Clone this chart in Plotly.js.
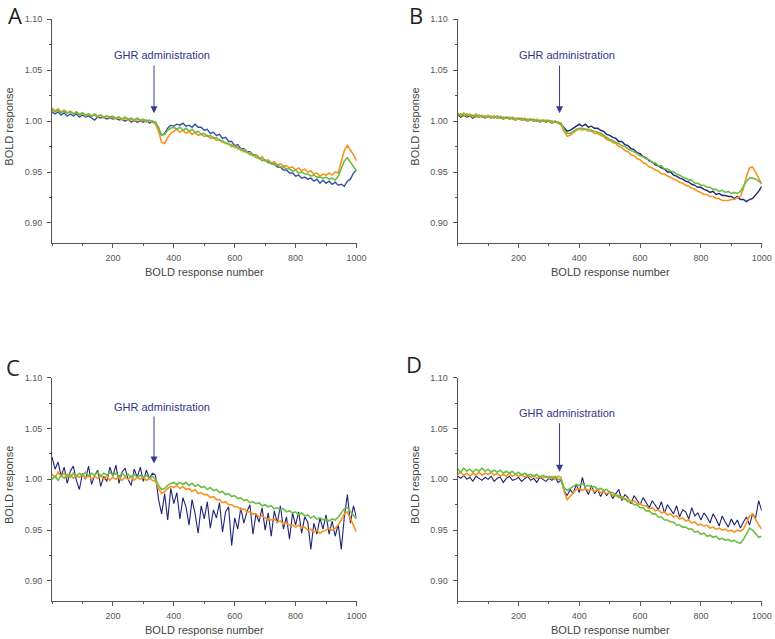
<!DOCTYPE html>
<html>
<head>
<meta charset="utf-8">
<script src="https://cdn.plot.ly/plotly-3.0.1.min.js"></script>
<style>html,body{margin:0;padding:0;background:#fff;}#chart{width:775px;height:639px;}</style>
</head>
<body>
<div id="chart"></div>
<script>
// BOLD response number (sampled every 10)
const responseNumber = [0,10,20,30,40,50,60,70,80,90,100,110,120,130,140,150,160,170,180,190,200,210,220,230,240,250,260,270,280,290,300,310,320,330,340,350,360,370,380,390,400,410,420,430,440,450,460,470,480,490,500,510,520,530,540,550,560,570,580,590,600,610,620,630,640,650,660,670,680,690,700,710,720,730,740,750,760,770,780,790,800,810,820,830,840,850,860,870,880,890,900,910,920,930,940,950,960,970,980,990,1000];

const panelLabels = ["A", "B", "C", "D"];
const xTickVals = [200, 400, 600, 800, 1000];
const yTickVals = [0.90, 0.95, 1.00, 1.05, 1.10];
const xTitle = "BOLD response number";
const yTitle = "BOLD response";
const eventLabel = "GHR administration";
const eventX = 335;

// Panel A
const A_navy = [1.009,1.007,1.009,1.006,1.008,1.005,1.007,1.005,1.007,1.004,
1.006,1.004,1.005,1.003,1.001,1.004,1.003,1.004,1.002,1.003,
1.002,1.003,1.001,1.002,1.000,1.002,0.999,1.001,0.999,1.000,
0.999,1.001,0.998,1.000,0.998,0.991,0.986,0.988,0.993,0.996,
0.995,0.997,0.996,0.998,0.995,0.996,0.994,0.997,0.994,0.994,
0.991,0.992,0.988,0.989,0.986,0.987,0.983,0.984,0.980,0.980,
0.976,0.977,0.973,0.973,0.970,0.970,0.967,0.967,0.964,0.964,
0.961,0.961,0.958,0.958,0.955,0.955,0.952,0.952,0.949,0.949,
0.946,0.947,0.944,0.945,0.943,0.944,0.941,0.943,0.939,0.942,
0.939,0.941,0.938,0.940,0.937,0.938,0.936,0.941,0.943,0.949,
0.952];
const A_orange = [1.013,1.010,1.012,1.009,1.011,1.008,1.010,1.007,1.009,1.006,
1.008,1.005,1.007,1.005,1.006,1.004,1.006,1.003,1.005,1.003,
1.004,1.002,1.004,1.001,1.003,1.001,1.002,1.000,1.002,1.000,
1.001,0.999,1.001,0.999,0.997,0.990,0.979,0.978,0.984,0.988,
0.990,0.992,0.989,0.991,0.988,0.990,0.987,0.989,0.986,0.987,
0.985,0.986,0.983,0.984,0.981,0.982,0.979,0.979,0.977,0.977,
0.974,0.975,0.971,0.972,0.969,0.969,0.966,0.967,0.963,0.965,
0.961,0.962,0.959,0.960,0.957,0.958,0.956,0.956,0.954,0.955,
0.952,0.954,0.951,0.953,0.950,0.951,0.948,0.949,0.946,0.948,
0.947,0.949,0.947,0.950,0.949,0.960,0.971,0.976,0.972,0.967,
0.961];
const A_green = [1.011,1.009,1.011,1.008,1.010,1.008,1.009,1.007,1.009,1.007,
1.008,1.006,1.007,1.005,1.007,1.005,1.006,1.004,1.005,1.004,
1.005,1.003,1.004,1.002,1.004,1.002,1.003,1.001,1.003,1.001,
1.002,1.000,1.001,0.999,0.999,0.994,0.986,0.987,0.991,0.993,
0.994,0.992,0.994,0.991,0.993,0.990,0.992,0.989,0.990,0.987,
0.988,0.985,0.986,0.983,0.984,0.981,0.981,0.978,0.978,0.975,
0.976,0.973,0.973,0.970,0.970,0.967,0.967,0.964,0.964,0.961,
0.962,0.959,0.959,0.957,0.957,0.955,0.955,0.953,0.953,0.951,
0.952,0.949,0.950,0.948,0.948,0.946,0.947,0.945,0.945,0.944,
0.945,0.943,0.944,0.942,0.946,0.954,0.961,0.964,0.960,0.956,
0.951];

// Panel B
const B_navy = [1.006,1.004,1.006,1.004,1.005,1.003,1.005,1.004,1.005,1.003,
1.005,1.003,1.005,1.003,1.004,1.002,1.004,1.002,1.003,1.001,
1.003,1.001,1.002,1.000,1.002,1.000,1.001,0.999,1.001,0.999,
1.000,0.998,1.000,0.998,0.997,0.993,0.990,0.991,0.993,0.995,
0.997,0.995,0.997,0.994,0.995,0.993,0.993,0.991,0.990,0.987,
0.986,0.984,0.983,0.980,0.980,0.977,0.976,0.973,0.972,0.969,
0.968,0.965,0.964,0.961,0.960,0.957,0.956,0.954,0.953,0.950,
0.950,0.947,0.946,0.944,0.943,0.941,0.940,0.938,0.937,0.935,
0.935,0.933,0.932,0.930,0.931,0.928,0.929,0.927,0.927,0.926,
0.926,0.924,0.926,0.923,0.923,0.921,0.923,0.924,0.927,0.931,
0.936];
const B_orange = [1.008,1.005,1.008,1.005,1.007,1.004,1.007,1.004,1.006,1.003,
1.006,1.003,1.005,1.003,1.005,1.002,1.004,1.002,1.004,1.001,
1.003,1.001,1.003,1.000,1.002,1.000,1.002,0.999,1.001,0.999,
1.001,0.998,1.000,0.998,0.996,0.990,0.985,0.986,0.989,0.991,
0.992,0.991,0.992,0.990,0.990,0.988,0.988,0.986,0.985,0.982,
0.981,0.979,0.978,0.975,0.974,0.971,0.970,0.967,0.966,0.963,
0.962,0.959,0.958,0.955,0.954,0.952,0.951,0.948,0.948,0.946,
0.945,0.943,0.942,0.940,0.939,0.937,0.936,0.934,0.933,0.931,
0.930,0.928,0.928,0.926,0.926,0.924,0.924,0.922,0.922,0.922,
0.923,0.923,0.925,0.926,0.934,0.946,0.954,0.955,0.950,0.944,
0.938];
const B_green = [1.006,1.007,1.005,1.007,1.005,1.006,1.004,1.006,1.004,1.005,
1.004,1.005,1.003,1.005,1.003,1.004,1.003,1.004,1.002,1.003,
1.002,1.003,1.001,1.002,1.001,1.002,1.000,1.001,1.000,1.001,
1.000,1.000,0.999,0.999,0.998,0.992,0.988,0.988,0.990,0.992,
0.993,0.993,0.992,0.992,0.991,0.990,0.989,0.988,0.986,0.984,
0.982,0.981,0.979,0.978,0.976,0.975,0.973,0.971,0.970,0.968,
0.966,0.965,0.963,0.962,0.959,0.959,0.956,0.956,0.953,0.953,
0.951,0.950,0.948,0.947,0.945,0.944,0.942,0.942,0.939,0.939,
0.937,0.937,0.935,0.935,0.933,0.933,0.931,0.932,0.930,0.931,
0.929,0.930,0.929,0.931,0.936,0.941,0.944,0.944,0.943,0.941,
0.939];

// Panel C
const C_navy = [1.022,1.010,1.017,1.003,1.012,0.996,1.008,1.013,0.999,0.990,
1.006,1.000,1.013,0.995,1.004,1.009,0.993,1.003,0.998,1.012,
1.003,1.014,0.996,1.007,1.011,1.000,0.994,1.010,1.002,1.012,
0.998,1.009,1.001,1.006,1.004,0.980,0.966,0.986,0.960,0.991,
0.976,0.987,0.961,0.982,0.973,0.955,0.980,0.966,0.947,0.974,
0.961,0.978,0.952,0.970,0.962,0.977,0.948,0.968,0.973,0.935,
0.962,0.951,0.972,0.957,0.968,0.975,0.946,0.966,0.958,0.972,
0.950,0.967,0.944,0.969,0.957,0.974,0.951,0.963,0.941,0.967,
0.955,0.968,0.947,0.963,0.958,0.931,0.957,0.946,0.962,0.951,
0.965,0.946,0.959,0.944,0.956,0.931,0.963,0.985,0.957,0.974,
0.962];
const C_orange = [1.005,1.002,1.007,1.003,1.006,1.002,1.005,1.001,1.004,1.002,
1.005,1.001,1.004,1.000,1.003,1.001,1.004,1.000,1.003,0.999,
1.002,1.000,1.003,0.999,1.002,1.000,1.003,0.999,1.002,1.000,
1.002,0.999,1.001,0.999,0.998,0.991,0.986,0.988,0.991,0.993,
0.992,0.994,0.991,0.993,0.990,0.991,0.988,0.990,0.986,0.987,
0.985,0.985,0.982,0.983,0.980,0.980,0.977,0.978,0.975,0.975,
0.973,0.973,0.970,0.971,0.968,0.968,0.966,0.966,0.963,0.964,
0.962,0.961,0.960,0.961,0.958,0.959,0.956,0.957,0.955,0.955,
0.953,0.955,0.952,0.953,0.950,0.951,0.948,0.950,0.947,0.949,
0.950,0.952,0.950,0.952,0.955,0.960,0.966,0.968,0.962,0.955,
0.948];
const C_green = [1.000,1.003,0.999,1.004,1.001,1.005,1.002,1.006,1.003,1.006,
1.004,1.007,1.003,1.006,1.004,1.007,1.003,1.006,1.004,1.007,
1.004,1.006,1.003,1.006,1.003,1.005,1.002,1.005,1.002,1.004,
1.002,1.004,1.001,1.003,1.000,0.994,0.990,0.991,0.994,0.996,
0.997,0.995,0.997,0.995,0.997,0.994,0.996,0.993,0.995,0.992,
0.993,0.990,0.992,0.989,0.990,0.987,0.988,0.985,0.986,0.983,
0.984,0.981,0.982,0.979,0.980,0.977,0.978,0.976,0.977,0.974,
0.975,0.973,0.974,0.971,0.972,0.970,0.971,0.968,0.969,0.967,
0.968,0.965,0.967,0.964,0.965,0.962,0.964,0.961,0.962,0.960,
0.961,0.959,0.961,0.960,0.963,0.967,0.971,0.972,0.968,0.965,
0.961];

// Panel D
const D_navy = [1.003,1.001,1.004,1.000,1.002,0.998,1.003,1.001,0.999,1.002,
1.000,1.003,0.998,1.001,1.002,0.997,1.001,1.003,0.999,1.000,
1.002,0.998,1.001,1.003,0.999,1.001,0.997,1.002,1.000,0.998,
1.001,0.999,1.002,0.997,0.999,0.989,0.984,0.990,0.986,0.995,
0.987,1.002,0.991,0.985,0.994,0.986,0.990,0.983,0.989,0.984,
0.988,0.981,0.986,0.990,0.979,0.985,0.982,0.976,0.984,0.979,
0.975,0.982,0.977,0.972,0.979,0.974,0.970,0.978,0.967,0.975,
0.971,0.966,0.974,0.963,0.970,0.968,0.961,0.972,0.964,0.967,
0.960,0.967,0.963,0.957,0.966,0.961,0.954,0.964,0.958,0.953,
0.961,0.955,0.960,0.952,0.958,0.963,0.955,0.966,0.962,0.979,
0.969];
const D_orange = [1.005,1.007,1.004,1.006,1.003,1.006,1.004,1.007,1.004,1.006,
1.005,1.007,1.004,1.006,1.003,1.005,1.003,1.006,1.003,1.005,
1.003,1.005,1.002,1.004,1.002,1.004,1.001,1.003,1.001,1.003,
1.001,1.003,1.000,1.003,1.002,0.988,0.980,0.983,0.987,0.990,
0.991,0.989,0.991,0.989,0.990,0.988,0.990,0.987,0.988,0.986,
0.987,0.984,0.985,0.982,0.983,0.980,0.981,0.978,0.979,0.976,
0.976,0.974,0.974,0.971,0.972,0.969,0.970,0.967,0.968,0.965,
0.966,0.963,0.964,0.961,0.962,0.959,0.960,0.957,0.958,0.955,
0.956,0.954,0.955,0.952,0.953,0.951,0.952,0.950,0.951,0.949,
0.950,0.948,0.950,0.949,0.951,0.957,0.964,0.966,0.960,0.955,
0.951];
const D_green = [1.010,1.007,1.011,1.008,1.010,1.007,1.010,1.008,1.011,1.008,
1.010,1.007,1.009,1.007,1.009,1.006,1.008,1.006,1.008,1.005,
1.007,1.004,1.006,1.004,1.005,1.003,1.005,1.002,1.004,1.002,
1.003,1.001,1.003,1.000,1.000,0.992,0.989,0.991,0.993,0.995,
0.994,0.996,0.993,0.994,0.992,0.993,0.990,0.991,0.989,0.990,
0.987,0.987,0.984,0.984,0.981,0.981,0.978,0.978,0.975,0.975,
0.972,0.972,0.969,0.969,0.966,0.966,0.963,0.963,0.960,0.960,
0.958,0.958,0.955,0.955,0.953,0.953,0.951,0.951,0.948,0.949,
0.946,0.947,0.944,0.945,0.943,0.944,0.941,0.942,0.940,0.941,
0.939,0.940,0.938,0.937,0.941,0.947,0.952,0.950,0.946,0.943,
0.944];

const colors = {orange: "#f7941d", green: "#6cbd45"};
const navyColors = ["#3550a5", "#1f2272", "#20237a", "#1f2272"];
const navyWidths = [1.4, 1.4, 1.1, 1.1];

const panels = [
  {navy: A_navy, orange: A_orange, green: A_green},
  {navy: B_navy, orange: B_orange, green: B_green},
  {navy: C_navy, orange: C_orange, green: C_green},
  {navy: D_navy, orange: D_orange, green: D_green}
];

// geometry (paper fractions)
const W = 775, H = 639;
const xDomains = [[52/W, 356.5/W], [457.7/W, 761.7/W]];
const yDomains = [[1 - 243.3/H, 1 - 19.3/H], [1 - 601.3/H, 1 - 377.7/H]];

const traces = [];
panels.forEach((p, i) => {
  const sfx = i === 0 ? "" : String(i + 1);
  const common = {x: responseNumber, mode: "lines", xaxis: "x" + sfx, yaxis: "y" + sfx, hoverinfo: "skip"};
  traces.push(Object.assign({}, common, {y: p.navy, line: {color: navyColors[i], width: navyWidths[i]}}));
  traces.push(Object.assign({}, common, {y: p.orange, line: {color: colors.orange, width: 1.6}}));
  traces.push(Object.assign({}, common, {y: p.green, line: {color: colors.green, width: 1.6}}));
});

const tickFont = {family: "Liberation Sans, Arial, sans-serif", size: 9, color: "#555"};
function xAxis(dom, anchor) {
  return {domain: dom, anchor: anchor, range: [0, 1000], tickvals: xTickVals, ticks: "outside", ticklen: 4,
    tickwidth: 1, tickcolor: "#555", showline: true, linecolor: "#555", linewidth: 1, showgrid: false,
    zeroline: false, tickfont: tickFont, ticklabelstandoff: 2,
    minor: {tick0: 0, dtick: 100, ticks: "outside", ticklen: 2, tickcolor: "#555", showgrid: false}};
}
function yAxis(dom, anchor) {
  return {domain: dom, anchor: anchor, range: [0.88, 1.10], tickvals: yTickVals, tickformat: ".2f",
    ticks: "outside", ticklen: 4, tickwidth: 1, tickcolor: "#555", showline: true, linecolor: "#555",
    linewidth: 1, showgrid: false, zeroline: false, tickfont: tickFont, ticklabelstandoff: 3,
    minor: {tick0: 0.9, dtick: 0.025, ticks: "outside", ticklen: 2, tickcolor: "#555", showgrid: false}};
}

const layout = {
  width: W, height: H, margin: {l: 0, r: 0, t: 0, b: 0}, showlegend: false,
  paper_bgcolor: "#fff", plot_bgcolor: "#fff",
  xaxis: xAxis(xDomains[0], "y"), yaxis: yAxis(yDomains[0], "x"),
  xaxis2: xAxis(xDomains[1], "y2"), yaxis2: yAxis(yDomains[0], "x2"),
  xaxis3: xAxis(xDomains[0], "y3"), yaxis3: yAxis(yDomains[1], "x3"),
  xaxis4: xAxis(xDomains[1], "y4"), yaxis4: yAxis(yDomains[1], "x4"),
  annotations: []
};

const letterPos = [[15, 15], [415.5, 15], [13.5, 367], [414, 364]];
const yTitlePos = [[9, 126.7], [415, 126.7], [9, 485], [415, 485]];
const xTitlePos = [[204, 271.7], [610, 271.7], [204, 630], [610, 630]];
const eventText = [1.0649, 1.0649, 1.0712, 1.0653];
const arrowTail = [1.056, 1.056, 1.0633, 1.0567];
const arrowTip = [1.0078, 1.0077, 1.0157, 1.0075];

panels.forEach((p, i) => {
  const sfx = i === 0 ? "" : String(i + 1);
  layout.annotations.push({xref: "paper", yref: "paper", x: letterPos[i][0] / W, y: 1 - letterPos[i][1] / H,
    text: panelLabels[i], showarrow: false, xanchor: "center", yanchor: "middle", borderpad: 0,
    font: {family: "Open Sans, sans-serif", size: 22, color: "#231f20"}});
  layout.annotations.push({xref: "paper", yref: "paper", x: yTitlePos[i][0] / W, y: 1 - yTitlePos[i][1] / H,
    text: yTitle, textangle: -90, showarrow: false, xanchor: "center", yanchor: "middle",
    font: {family: "Liberation Sans, Arial, sans-serif", size: 11, color: "#444"}});
  layout.annotations.push({xref: "paper", yref: "paper", x: xTitlePos[i][0] / W, y: 1 - xTitlePos[i][1] / H,
    text: xTitle, showarrow: false, xanchor: "center", yanchor: "middle",
    font: {family: "Liberation Sans, Arial, sans-serif", size: 11, color: "#444"}});
  layout.annotations.push({xref: "x" + sfx, yref: "y" + sfx, x: 361, y: eventText[i],
    text: eventLabel, showarrow: false, xanchor: "center", yanchor: "middle",
    font: {family: "Liberation Sans, Arial, sans-serif", size: 11, color: "#35358a"}});
  layout.annotations.push({xref: "x" + sfx, yref: "y" + sfx, x: eventX, y: arrowTip[i],
    axref: "x" + sfx, ayref: "y" + sfx, ax: eventX, ay: arrowTail[i], text: "",
    showarrow: true, arrowhead: 2, arrowsize: 1.4, arrowwidth: 1, arrowcolor: "#3a3a8c", standoff: 0, startstandoff: 0});
});

Plotly.newPlot("chart", traces, layout, {staticPlot: true, displayModeBar: false});
</script>
</body>
</html>
